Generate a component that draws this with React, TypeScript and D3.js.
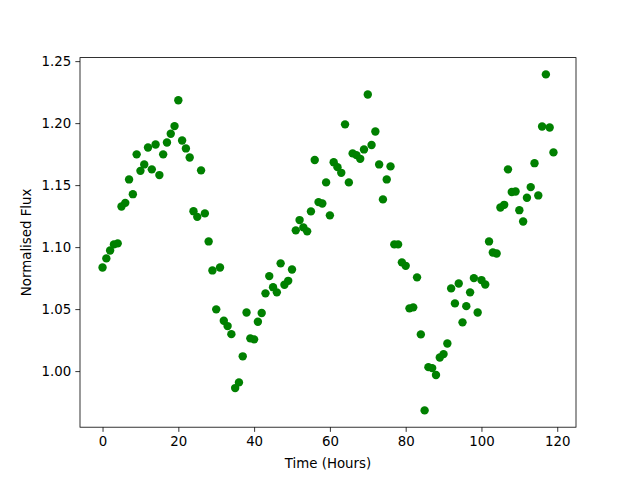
import * as d3 from "d3";
import { useEffect, useRef } from "react";

// hours 0..119, one reading per hour
const hours: number[] = d3.range(0, 120);

const flux: number[] = [
  1.0836, 1.0909, 1.0973, 1.1022, 1.103, 1.1328, 1.1357, 1.1546, 1.1427, 1.1748,
  1.1615, 1.1667, 1.1804, 1.1627, 1.1828, 1.1581, 1.1748, 1.1844, 1.1914, 1.1976,
  1.2185, 1.186, 1.1796, 1.1723, 1.129, 1.1244, 1.1619, 1.1272, 1.1046, 1.0812,
  1.0498, 1.0836, 1.0406, 1.0363, 1.0298, 0.9863, 0.9909, 1.0119, 1.0473, 1.0264,
  1.0256, 1.0398, 1.0468, 1.0627, 1.0766, 1.0677, 1.0635, 1.0869, 1.0696, 1.0728,
  1.082, 1.1135, 1.1218, 1.1159, 1.1127, 1.1288, 1.1702, 1.1363, 1.1352, 1.1522,
  1.1256, 1.1685, 1.1645, 1.1599, 1.199, 1.1522, 1.1756, 1.1742, 1.1712, 1.1788,
  1.2231, 1.1823, 1.1933, 1.1667, 1.1385, 1.1546, 1.1651, 1.1022, 1.1022, 1.0877,
  1.0849, 1.0506, 1.0514, 1.0756, 1.0296, 0.9683, 1.0032, 1.0024, 0.9968, 1.011,
  1.0137, 1.0223, 1.0667, 1.0546, 1.0707, 1.0393, 1.0524, 1.0635, 1.075, 1.0473,
  1.0734, 1.0699, 1.1046, 1.0957, 1.0949, 1.132, 1.1341, 1.1627, 1.1444, 1.1449,
  1.1298, 1.1207, 1.1398, 1.1484, 1.1677, 1.1417, 1.1973, 1.2393, 1.1965, 1.1764,
];

const xTicks = [0, 20, 40, 60, 80, 100, 120];
const yTicks = [1.0, 1.05, 1.1, 1.15, 1.2, 1.25];

const W = 640;
const H = 480;
const margin = { top: 57.6, right: 64, bottom: 52.8, left: 80 };
const FONT = "'DejaVu Sans', sans-serif";

const App = () => {
  const ref = useRef<SVGSVGElement>(null);

  useEffect(() => {
    const svg = d3.select(ref.current);
    svg.selectAll("*").remove();

    const x0 = margin.left;
    const x1 = W - margin.right;
    const y0 = H - margin.bottom;
    const y1 = margin.top;

    // matplotlib style 5% padding around data
    const [xmin, xmax] = d3.extent(hours) as [number, number];
    const [ymin, ymax] = d3.extent(flux) as [number, number];
    const xpad = (xmax - xmin) * 0.05;
    const ypad = (ymax - ymin) * 0.05;

    const x = d3.scaleLinear().domain([xmin - xpad, xmax + xpad]).range([x0, x1]);
    const y = d3.scaleLinear().domain([ymin - ypad, ymax + ypad]).range([y0, y1]);

    svg.append("g")
      .selectAll("circle")
      .data(hours)
      .join("circle")
      .attr("cx", (d) => x(d))
      .attr("cy", (d, i) => y(flux[i]))
      .attr("r", 4.2)
      .attr("fill", "#008000");

    const xAxis = d3.axisBottom(x).tickValues(xTicks).tickSize(4.67).tickPadding(4.2)
      .tickFormat(d3.format("d"));
    const yAxis = d3.axisLeft(y).tickValues(yTicks).tickSize(4.67).tickPadding(4.2)
      .tickFormat(d3.format(".2f"));

    const gx = svg.append("g").attr("transform", `translate(0,${y0})`).call(xAxis);
    const gy = svg.append("g").attr("transform", `translate(${x0},0)`).call(yAxis);

    for (const g of [gx, gy]) {
      g.select(".domain").remove();
      g.selectAll(".tick line").attr("stroke", "#000").attr("stroke-width", 0.8);
      g.selectAll(".tick text")
        .attr("fill", "#000")
        .style("font-family", FONT)
        .style("font-size", "13.33px");
    }

    // frame
    svg.append("rect")
      .attr("x", x0).attr("y", y1)
      .attr("width", x1 - x0).attr("height", y0 - y1)
      .attr("fill", "none").attr("stroke", "#000").attr("stroke-width", 0.8);

    svg.append("text")
      .attr("x", (x0 + x1) / 2).attr("y", 468)
      .attr("text-anchor", "middle")
      .style("font-family", FONT).style("font-size", "13.33px")
      .text("Time (Hours)");

    svg.append("text")
      .attr("transform", `translate(31,${(y0 + y1) / 2}) rotate(-90)`)
      .attr("text-anchor", "middle")
      .style("font-family", FONT).style("font-size", "13.33px")
      .text("Normalised Flux");
  }, []);

  return (
    <svg ref={ref} width={W} height={H}
      style={{ position: "absolute", left: 0, top: 0, background: "#fff" }} />
  );
};

export default App;
